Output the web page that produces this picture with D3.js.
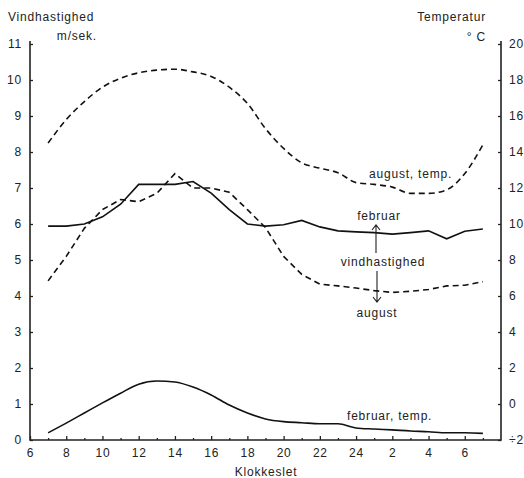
<!DOCTYPE html>
<html>
<head>
<meta charset="utf-8">
<script src="https://cdn.jsdelivr.net/npm/d3@7"></script>
<style>
body { margin: 0; background: #fff; }
text { font-family: "Liberation Sans", Arial, sans-serif; font-size: 12px; letter-spacing: 0.8px; fill: #222; }
</style>
</head>
<body>
<script>
// hours of the day, 7 in the morning to 7 next morning (31 = 7 next day)
var hours = [7, 8, 9, 10, 11, 12, 13, 14, 15, 16, 17, 18, 19, 20, 21, 22, 23, 24, 25, 26, 27, 28, 29, 30, 31];

// vindhastighed, m/sek.
var febWind = [5.94, 5.94, 6.0, 6.2, 6.55, 7.1, 7.1, 7.1, 7.18, 6.86, 6.4, 6.0, 5.94, 5.98, 6.1, 5.92, 5.81, 5.78, 5.76, 5.72, 5.76, 5.81, 5.59, 5.8, 5.86];
var augWind = [4.42, 5.1, 5.88, 6.4, 6.68, 6.62, 6.85, 7.4, 7.0, 7.0, 6.88, 6.4, 5.9, 5.1, 4.6, 4.33, 4.28, 4.22, 4.15, 4.1, 4.13, 4.18, 4.28, 4.3, 4.4];

// temperatur, grader C
var augTemp = [14.5, 15.8, 16.8, 17.6, 18.1, 18.4, 18.55, 18.6, 18.45, 18.2, 17.6, 16.7, 15.3, 14.2, 13.4, 13.1, 12.85, 12.3, 12.2, 12.05, 11.7, 11.7, 11.9, 12.8, 14.4];
var febTemp = [-1.6, -1.06, -0.5, 0.06, 0.6, 1.1, 1.28, 1.22, 0.94, 0.5, -0.06, -0.5, -0.83, -0.98, -1.04, -1.1, -1.1, -1.33, -1.39, -1.44, -1.5, -1.54, -1.6, -1.6, -1.63];

var windTicks = d3.range(0, 12);
var tempTicks = d3.range(-2, 22, 2);
var hourTicks = d3.range(6, 31, 2);
var minorHours = d3.range(7, 32, 2);

var width = 524, height = 478;
var padL = 30, padR = 501, padT = 44, padB = 440;

var svg = d3.select("body").append("svg")
    .attr("width", width)
    .attr("height", height);

var x = d3.scaleLinear().domain([6, 32]).range([padL, padR]);
var yWind = d3.scaleLinear().domain([0, 11]).range([padB, padT]);
var yTemp = d3.scaleLinear().domain([-2, 20]).range([padB, padT]);

// axes
var gLeft = svg.append("g")
    .attr("transform", "translate(" + padL + ",0)")
    .call(d3.axisLeft(yWind).tickValues(windTicks).tickSize(-3).tickSizeOuter(0).tickPadding(8));

var gRight = svg.append("g")
    .attr("transform", "translate(" + padR + ",0)")
    .call(d3.axisRight(yTemp).tickValues(tempTicks).tickSize(-3).tickSizeOuter(0).tickPadding(8)
        .tickFormat(function(d) { return d < 0 ? "\u00f7" + Math.abs(d) : d; }));

var gMinor = svg.append("g")
    .attr("transform", "translate(0," + padB + ")")
    .call(d3.axisBottom(x).tickValues(minorHours).tickSize(-2).tickSizeOuter(0).tickFormat(""));

var gBottom = svg.append("g")
    .attr("transform", "translate(0," + padB + ")")
    .call(d3.axisBottom(x).tickValues(hourTicks).tickSize(-4).tickSizeOuter(0).tickPadding(8)
        .tickFormat(function(d) { return d > 24 ? d - 24 : d; }));

[gLeft, gRight, gMinor, gBottom].forEach(function(g) {
    g.select(".domain").remove();
    g.selectAll("line").attr("stroke", "#222").attr("stroke-width", 1.3);
    g.selectAll("text").attr("font-family", null).attr("font-size", null).attr("fill", null);
});

// axis frame (no top)
svg.append("path")
    .attr("d", "M" + padL + "," + (padT - 3) + "V" + padB + "H" + padR + "V" + (padT - 3))
    .attr("fill", "none")
    .attr("stroke", "#222")
    .attr("stroke-width", 1.6);

// lines
function windLine(vals) {
    return d3.line().x(function(d, i) { return x(hours[i]); }).y(function(d) { return yWind(d); })(vals);
}
function tempLine(vals) {
    return d3.line().curve(d3.curveMonotoneX)
        .x(function(d, i) { return x(hours[i]); }).y(function(d) { return yTemp(d); })(vals);
}

svg.append("path").attr("d", tempLine(augTemp))
    .attr("fill", "none").attr("stroke", "#111").attr("stroke-width", 1.6).attr("stroke-dasharray", "6,4");
svg.append("path").attr("d", windLine(augWind))
    .attr("fill", "none").attr("stroke", "#111").attr("stroke-width", 1.6).attr("stroke-dasharray", "6,4");
svg.append("path").attr("d", windLine(febWind))
    .attr("fill", "none").attr("stroke", "#111").attr("stroke-width", 1.6);
svg.append("path").attr("d", tempLine(febTemp))
    .attr("fill", "none").attr("stroke", "#111").attr("stroke-width", 1.6);

// titles
svg.append("text").attr("x", 8).attr("y", 21).text("Vindhastighed");
svg.append("text").attr("x", 97).attr("y", 40).attr("text-anchor", "end").text("m/sek.");
svg.append("text").attr("x", 486).attr("y", 21).attr("text-anchor", "end").text("Temperatur");
svg.append("text").attr("x", 486).attr("y", 41).attr("text-anchor", "end").text("\u00b0 C");
svg.append("text").attr("x", 266).attr("y", 476).attr("text-anchor", "middle").text("Klokkeslet");

// annotations
svg.append("text").attr("x", 369).attr("y", 178).text("august, temp.");
svg.append("text").attr("x", 379).attr("y", 220).attr("text-anchor", "middle").text("februar");
svg.append("text").attr("x", 383).attr("y", 266).attr("text-anchor", "middle").text("vindhastighed");
svg.append("text").attr("x", 377).attr("y", 317).attr("text-anchor", "middle").text("august");
svg.append("text").attr("x", 347).attr("y", 420).text("februar, temp.");

var arrows = svg.append("g").attr("fill", "none").attr("stroke", "#222").attr("stroke-width", 1.1);
arrows.append("path").attr("d", "M376,253V225M372,230L376,225L380,230");
arrows.append("path").attr("d", "M377,271V302M373,297L377,302L381,297");
</script>
</body>
</html>
